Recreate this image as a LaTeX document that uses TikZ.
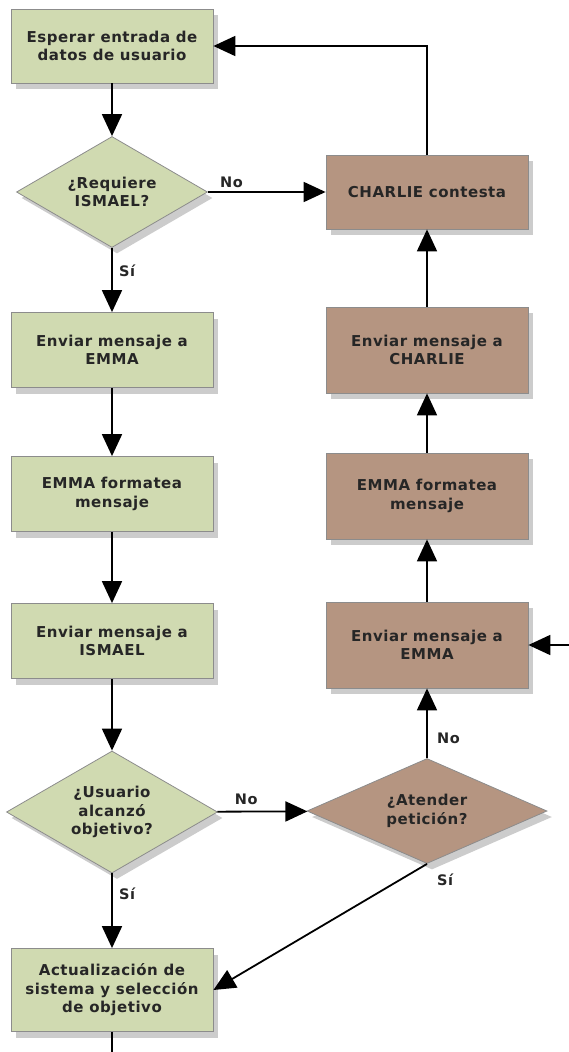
\documentclass[tikz,border=0pt]{standalone}
\usepackage{fontspec}
\setmainfont{DejaVu Sans}[LetterSpace=3.5]
\usetikzlibrary{shapes.geometric,arrows.meta,shadows}
\definecolor{verde}{HTML}{D0DAB1}
\definecolor{cafe}{HTML}{B59581}
\definecolor{borde}{HTML}{8C8C8C}
\definecolor{texto}{HTML}{262626}
\begin{document}
\begin{tikzpicture}[x=1pt,y=-1pt,
  sombra/.style={drop shadow={shadow xshift=5pt,shadow yshift=-6pt,fill=black,opacity=0.2}},
  paso/.style={rectangle,draw=borde,line width=0.8pt,minimum width=202pt,minimum height=75pt,align=center,text=texto,font=\fontsize{15}{18.5}\selectfont\bfseries,sombra},
  decision/.style={diamond,draw=borde,line width=0.8pt,inner sep=0pt,align=center,text=texto,font=\fontsize{15}{18.5}\selectfont\bfseries,sombra},
  flecha/.style={-{Triangle[length=22pt,width=20pt]},line width=1.8pt},
  etiqueta/.style={text=texto,font=\fontsize{14.5}{16}\selectfont\bfseries}]

    \useasboundingbox (0,0) rectangle (569,1052);

    \node[paso,fill=verde,minimum height=74pt] (esperar) at (112,46) {Esperar entrada de\\datos de usuario};
    \node[decision,fill=verde,aspect=1.7,minimum width=191pt,minimum height=111pt] (requiere) at (112,192) {¿Requiere\\ISMAEL?};
    \node[paso,fill=cafe,minimum height=74pt] (contesta) at (427,192) {CHARLIE contesta};
    \node[paso,fill=verde] (enviaremma) at (112,350) {Enviar mensaje a\\EMMA};
    \node[paso,fill=verde] (formatea) at (112,494) {EMMA formatea\\mensaje};
    \node[paso,fill=verde] (enviarismael) at (112,641) {Enviar mensaje a\\ISMAEL};
    \node[decision,fill=verde,aspect=1.7,minimum width=211pt,minimum height=122pt] (usuario) at (112,812) {¿Usuario\\alcanzó\\objetivo?};
    \node[decision,fill=cafe,aspect=2.3,minimum width=240pt,minimum height=105pt] (atender) at (427,811) {¿Atender\\petición?};
    \node[paso,fill=verde,minimum height=83pt] (actualiza) at (112,990) {Actualización de\\sistema y selección\\de objetivo};
    \node[paso,fill=cafe,minimum height=86pt] (cafeemma) at (427,645) {Enviar mensaje a\\EMMA};
    \node[paso,fill=cafe,minimum height=86pt] (cafeformatea) at (427,496) {EMMA formatea\\mensaje};
    \node[paso,fill=cafe,minimum height=86pt] (cafecharlie) at (427,350) {Enviar mensaje a\\CHARLIE};
    \coordinate (entrada) at (569,645);
    \coordinate (salida) at (112,1052);

    \draw[flecha] (esperar) -- (requiere);
    \draw[flecha] (requiere) -- node[etiqueta,above,pos=0.2] (no1) {No} (contesta);
    \draw[flecha] (contesta.north) |- (esperar.east);
    \draw[flecha] (requiere) -- node[etiqueta,right,pos=0.35,xshift=3pt] (si1) {Sí} (enviaremma);
    \draw[flecha] (enviaremma) -- (formatea);
    \draw[flecha] (formatea) -- (enviarismael);
    \draw[flecha] (enviarismael) -- (usuario);
    \draw[flecha] (usuario) -- node[etiqueta,above,pos=0.32,yshift=3pt] (no2) {No} (atender);
    \draw[flecha] (usuario) -- node[etiqueta,right,pos=0.27,xshift=3pt] (si2) {Sí} (actualiza);
    \draw[flecha] (atender) -- node[etiqueta,right,pos=0.28,xshift=6pt] (no3) {No} (cafeemma);
    \draw[flecha] (atender.south) -- node[etiqueta,pos=0,anchor=north west,xshift=6pt,yshift=-6pt] (si3) {Sí} (actualiza.east);
    \draw[flecha] (entrada) -- (cafeemma);
    \draw[flecha] (cafeemma) -- (cafeformatea);
    \draw[flecha] (cafeformatea) -- (cafecharlie);
    \draw[flecha] (cafecharlie) -- (contesta);
    \draw[line width=1.8pt] (actualiza) -- (salida);

\end{tikzpicture}
\end{document}
